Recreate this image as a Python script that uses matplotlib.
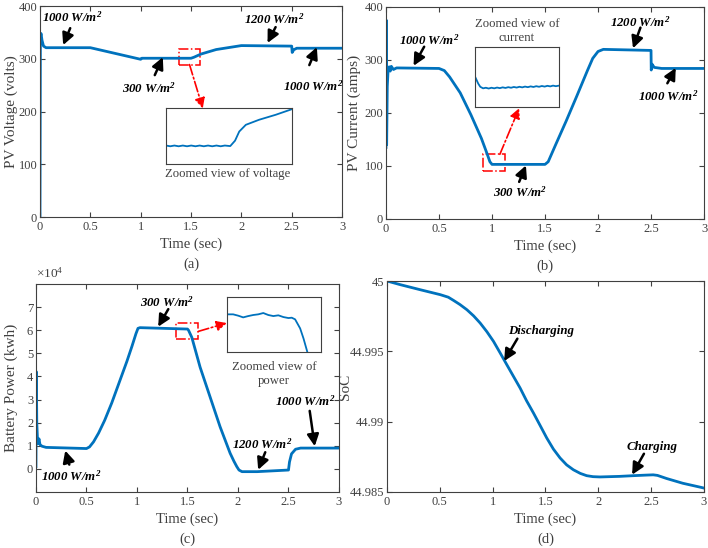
import matplotlib
matplotlib.use('Agg')
import matplotlib.pyplot as plt
from matplotlib.patches import Rectangle
from matplotlib.ticker import FormatStrFormatter

plt.rcParams['font.family'] = ['Liberation Serif', 'DejaVu Serif']
plt.rcParams['mathtext.fontset'] = 'custom'
plt.rcParams['mathtext.rm'] = 'Liberation Serif'
plt.rcParams['mathtext.it'] = 'Liberation Serif:italic'
plt.rcParams['mathtext.bf'] = 'Liberation Serif:italic:bold'

# ---------------- data ----------------
time_ticks = [0, 0.5, 1, 1.5, 2, 2.5, 3]

volt_t = [0, 0.004, 0.01, 0.02, 0.035, 0.06, 0.5, 0.75, 1.0, 1.01, 1.5, 1.53, 1.6, 1.75, 2.0,
          2.5, 2.505, 2.52, 2.55, 3.0]
volt_v = [0, 340, 348, 335, 324, 321, 321, 310, 299, 301, 301, 303, 309, 317.5, 325,
          324, 312, 317, 320, 320]

cur_t = [0, 0.003, 0.006, 0.012, 0.02, 0.03, 0.04, 0.05, 0.07, 0.1, 0.5, 0.55, 0.6, 0.7, 0.8,
         0.9, 0.95, 0.98, 1.0, 1.5, 1.53, 1.6, 1.7, 1.8, 1.9, 1.95, 2.0, 2.05, 2.5, 2.502,
         2.51, 2.53, 2.6, 3.0]
cur_i = [135, 375, 140, 250, 282, 287, 279, 288, 282, 285, 284, 280, 268, 238, 197,
         152, 125, 108, 103, 103, 108, 140, 185, 232, 280, 303, 316, 320, 318, 281,
         292, 286, 284, 284]

# battery power in units of 1e4
pow_t = [0, 0.004, 0.008, 0.015, 0.02, 0.03, 0.04, 0.06, 0.1, 0.5, 0.53, 0.57, 0.62, 0.68,
         0.75, 0.8, 0.85, 0.9, 0.95, 0.99, 1.01, 1.03, 1.5, 1.51, 1.543, 1.625, 1.724, 1.823,
         1.922, 1.96, 1.988, 2.01, 2.04, 2.19, 2.5, 2.51, 2.53, 2.57, 2.62, 3.0]
pow_v = [0.1, 4.2, 2.0, 1.3, 1.1, 1.3, 1.05, 0.98, 0.93, 0.88, 0.95, 1.17, 1.55, 2.1,
         2.85, 3.45, 4.05, 4.65, 5.3, 5.85, 6.08, 6.11, 6.05, 6.0, 5.69, 4.40, 3.11, 1.82,
         0.68, 0.33, 0.10, -0.05, -0.12, -0.12, -0.05, 0.3, 0.65, 0.85, 0.90, 0.90]

soc_t = [0, 0.126, 0.315, 0.504, 0.58, 0.63, 0.69, 0.756, 0.82, 0.882, 0.945, 1.008, 1.07,
         1.134, 1.2, 1.26, 1.32, 1.386, 1.45, 1.512, 1.575, 1.638, 1.7, 1.764, 1.83, 1.89,
         1.95, 2.016, 2.2, 2.33, 2.45, 2.52, 2.56, 2.646, 2.8, 2.96, 3.0]
soc_v = [45.0, 44.99974, 44.99938, 44.99903, 44.99885, 44.99862, 44.99833, 44.99796,
         44.99752, 44.99701, 44.99640, 44.99571, 44.99490, 44.99405, 44.99318, 44.99239,
         44.99150, 44.99062, 44.98972, 44.98884, 44.98805, 44.98742, 44.98693, 44.98658,
         44.98632, 44.98616, 44.98609, 44.98607, 44.98611, 44.98616, 44.98620, 44.98622,
         44.98618, 44.98596, 44.98562, 44.98535, 44.98528]

# zoomed views
zv_t = [1.380, 1.387, 1.394, 1.401, 1.408, 1.415, 1.422, 1.429, 1.436, 1.443, 1.450, 1.457,
        1.464, 1.471, 1.478, 1.487, 1.495, 1.502, 1.513, 1.535, 1.563, 1.590]
zv_v = [298.9, 298.5, 298.9, 298.5, 298.9, 298.5, 298.9, 298.5, 298.9, 298.5, 298.9, 298.5,
        298.9, 298.5, 298.9, 298.6, 301.5, 306.4, 310.0, 312.7, 315.4, 318.4]

zi_t = [0.915, 0.919, 0.923, 0.928, 0.935, 0.942, 0.949, 0.956, 0.963, 0.970, 0.977, 0.984,
        0.991, 0.998, 1.005, 1.012, 1.019, 1.026, 1.033, 1.040, 1.047, 1.054, 1.061, 1.068,
        1.075, 1.082, 1.089, 1.096, 1.103, 1.110, 1.117, 1.125]
zi_i = [106.8, 105.0, 103.2, 101.6, 100.8, 101.1, 100.7, 101.1, 100.8, 101.2, 100.9, 101.3,
        101.0, 101.4, 101.1, 101.5, 101.2, 101.6, 101.3, 101.7, 101.4, 101.8, 101.5, 101.9,
        101.6, 102.0, 101.7, 102.1, 101.8, 102.2, 101.9, 102.2]

zp_t = [1.385, 1.399, 1.411, 1.423, 1.435, 1.447, 1.459, 1.471, 1.483, 1.495, 1.507, 1.519,
        1.531, 1.539, 1.547, 1.559, 1.567, 1.576]
zp_v = [6.095, 6.095, 6.079, 6.058, 6.074, 6.087, 6.095, 6.111, 6.087, 6.074, 6.083, 6.062,
        6.050, 6.054, 6.034, 5.924, 5.802, 5.64]

BLUE = '#0072BD'
GRAY = '#404040'

fig = plt.figure(figsize=(7.08, 5.48), dpi=100)
axA = fig.add_axes([0.0565, 0.604, 0.4266, 0.385])
axB = fig.add_axes([0.5452, 0.6004, 0.4492, 0.3869])
axC = fig.add_axes([0.0508, 0.1022, 0.428, 0.3796])
axD = fig.add_axes([0.5466, 0.1022, 0.4477, 0.385])


def style(ax, ylim, yticks, ylabel, ylab_x, tag):
    ax.set_xlim(0, 3)
    ax.set_ylim(*ylim)
    ax.set_xticks(time_ticks)
    ax.xaxis.set_major_formatter(FormatStrFormatter('%g'))
    ax.set_yticks(yticks)
    ax.yaxis.set_major_formatter(FormatStrFormatter('%g'))
    ax.tick_params(direction='in', top=True, right=True, length=3.5, width=0.8,
                   colors=GRAY, labelcolor=GRAY, labelsize=9, pad=3)
    ax.tick_params(axis='y', pad=2)
    for s in ax.spines.values():
        s.set_color(GRAY)
        s.set_linewidth(0.8)
    ax.set_xlabel('Time (sec)', fontsize=10.5, color=GRAY, labelpad=3)
    ax.set_ylabel(ylabel, fontsize=11, color=GRAY)
    ax.yaxis.set_label_coords(ylab_x, 0.5)
    ax.text(0.5, -0.225, tag, transform=ax.transAxes, ha='center', va='center',
            fontsize=10.5, color=GRAY)


def note(ax, txt, txy, tail, tip):
    ax.text(txy[0], txy[1], txt, ha='center', va='center', fontsize=9.3,
            fontweight='bold', fontstyle='italic', color='k')
    ax.annotate('', xy=tip, xytext=tail,
                arrowprops=dict(arrowstyle='-|>,head_length=0.7,head_width=0.35',
                                lw=1.8, color='k', shrinkA=0, shrinkB=0,
                                mutation_scale=10))


def red_arrow(ax, tail, tip):
    ax.annotate('', xy=tip, xytext=tail,
                arrowprops=dict(arrowstyle='-|>,head_length=0.6,head_width=0.3',
                                lw=1.2, color='red', ls='-.', shrinkA=0, shrinkB=0,
                                mutation_scale=10))


def inset(rect, t, v, xlim, ylim):
    ai = fig.add_axes(rect)
    ai.plot(t, v, color=BLUE, lw=1.3)
    ai.set_xlim(*xlim)
    ai.set_ylim(*ylim)
    ai.set_xticks([])
    ai.set_yticks([])
    for s in ai.spines.values():
        s.set_color(GRAY)
        s.set_linewidth(0.8)
    return ai


W = r'W/m$^{\mathbf{2}}$'

# (a)
axA.plot(volt_t, volt_v, color=BLUE, lw=2.0)
style(axA, (0, 400), [0, 100, 200, 300, 400], 'PV Voltage (volts)', -0.074, '(a)')
note(axA, '1000 ' + W, (0.32, 379), (0.30, 358), (0.23, 326))
note(axA, '1200 ' + W, (2.33, 375), (2.34, 360), (2.26, 330))
note(axA, '300 ' + W, (1.08, 244), (1.14, 269), (1.22, 303))
note(axA, '1000 ' + W, (2.71, 248), (2.675, 288), (2.75, 322))
axA.add_patch(Rectangle((1.38, 289), 0.21, 30, fill=False, ec='red', ls='-.', lw=1.1))
red_arrow(axA, (1.485, 289), (1.617, 206))
inset([0.2345, 0.7007, 0.178, 0.1022], zv_t, zv_v, (1.38, 1.59), (289, 319))
fig.text(228 / 708, 1 - 174 / 548, 'Zoomed view of voltage', ha='center', va='center',
         fontsize=9.2, color=GRAY)

# (b)
axB.plot(cur_t, cur_i, color=BLUE, lw=2.0)
style(axB, (0, 400), [0, 100, 200, 300, 400], 'PV Current (amps)', -0.08, '(b)')
note(axB, '1000 ' + W, (0.41, 337), (0.36, 325), (0.26, 289))
note(axB, '1200 ' + W, (2.40, 372), (2.40, 361), (2.33, 322))
note(axB, '300 ' + W, (1.26, 50), (1.256, 70), (1.32, 101))
note(axB, '1000 ' + W, (2.66, 231), (2.654, 256), (2.733, 285))
axB.add_patch(Rectangle((0.915, 91), 0.21, 31, fill=False, ec='red', ls='-.', lw=1.1))
red_arrow(axB, (1.074, 122), (1.256, 209))
inset([0.671, 0.8042, 0.1186, 0.1095], zi_t, zi_i, (0.915, 1.125), (91, 122))
fig.text(517 / 708, 1 - 31 / 548, 'Zoomed view of\ncurrent', ha='center', va='center',
         fontsize=9.2, color=GRAY, linespacing=1.15)

# (c)
axC.plot(pow_t, pow_v, color=BLUE, lw=2.0)
style(axC, (-1, 8), [0, 1, 2, 3, 4, 5, 6, 7], 'Battery Power (kwh)', -0.059, '(c)')
axC.text(0.0, 1.015, r'$\times10^{4}$', transform=axC.transAxes, ha='left', va='bottom',
         fontsize=9.5, color=GRAY)
note(axC, '300 ' + W, (1.30, 7.22), (1.31, 6.91), (1.21, 6.15))
note(axC, '1000 ' + W, (0.347, -0.33), (0.33, 0.185), (0.29, 0.79))
note(axC, '1200 ' + W, (2.24, 1.05), (2.27, 0.72), (2.20, -0.04))
note(axC, '1000 ' + W, (2.67, 2.93), (2.71, 2.51), (2.76, 0.98))
axC.add_patch(Rectangle((1.385, 5.64), 0.223, 0.67, fill=False, ec='red', ls='-.', lw=1.1))
red_arrow(axC, (1.608, 5.95), (1.889, 6.31))
inset([0.321, 0.3582, 0.1319, 0.1004], zp_t, zp_v, (1.385, 1.608), (5.64, 6.31))
fig.text(274 / 708, 1 - 374 / 548, 'Zoomed view of\npower', ha='center', va='center',
         fontsize=9.2, color=GRAY, linespacing=1.15)

# (d)
axD.plot(soc_t, soc_v, color=BLUE, lw=2.0)
style(axD, (44.985, 45.0), [44.985, 44.99, 44.995, 45.0], 'SoC', -0.11, '(d)')
note(axD, 'Discharging', (1.46, 44.99642), (1.234, 44.9959), (1.109, 44.99431))
note(axD, 'Charging', (2.51, 44.9882), (2.432, 44.98772), (2.32, 44.98623))

fig.savefig('out.png', dpi=100)
